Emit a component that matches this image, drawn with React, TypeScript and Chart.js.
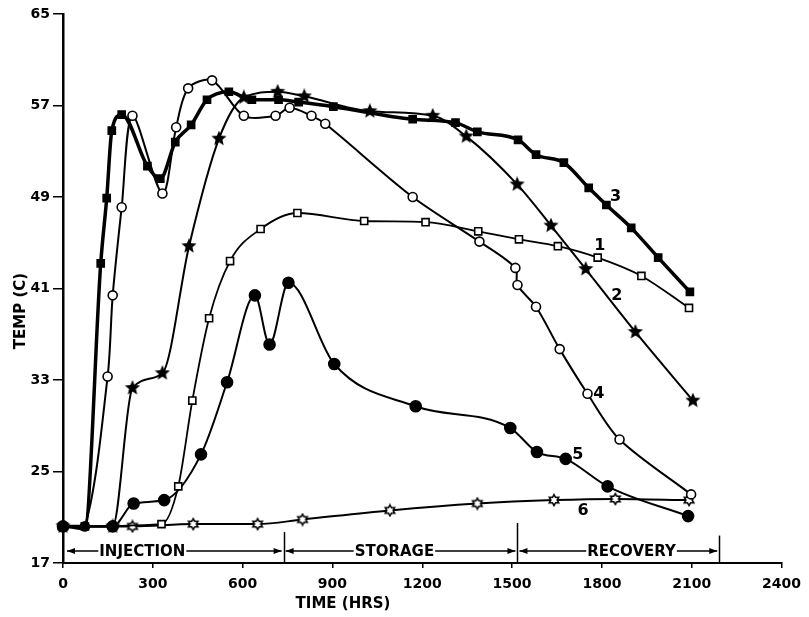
import React, { useEffect, useRef } from 'react';
import { Chart, registerables } from 'chart.js';
Chart.register(...registerables);

// Axis ranges / ticks
const xMin = 0, xMax = 2400, xStep = 300;
const yMin = 17, yMax = 65, yStep = 8;

// Series 1 (open squares)
const s1Hours = [0, 329, 385, 432, 488, 558, 660, 783, 1006, 1211, 1387, 1523, 1653, 1786, 1932, 2091];
const s1Temp = [20.2, 20.4, 23.7, 31.2, 38.4, 43.4, 46.2, 47.6, 46.9, 46.8, 46.0, 45.3, 44.7, 43.7, 42.1, 39.3];
// Series 2 (filled stars)
const s2Hours = [0, 166, 232, 332, 421, 521, 604, 717, 806, 1025, 1235, 1347, 1517, 1630, 1746, 1912, 2104];
const s2Temp = [20.2, 20.2, 32.3, 33.6, 44.7, 54.1, 57.7, 58.2, 57.8, 56.5, 56.1, 54.3, 50.1, 46.5, 42.7, 37.2, 31.2];
// Series 3 (filled squares)
const s3Hours = [0, 73, 126, 146, 163, 196, 282, 325, 375, 428, 481, 554, 631, 720, 787, 903, 1168, 1311, 1384, 1520, 1580, 1673, 1756, 1815, 1898, 1988, 2094];
const s3Temp = [20.2, 20.2, 43.2, 48.9, 54.8, 56.2, 51.7, 50.6, 53.8, 55.3, 57.5, 58.2, 57.5, 57.5, 57.3, 56.9, 55.8, 55.5, 54.7, 54.0, 52.7, 52.0, 49.8, 48.3, 46.3, 43.7, 40.7];
// Series 4 (open circles)
const s4Hours = [0, 73, 149, 166, 196, 232, 332, 378, 418, 498, 604, 710, 757, 830, 876, 1168, 1391, 1511, 1518, 1580, 1659, 1752, 1859, 2098];
const s4Temp = [20.2, 20.2, 33.3, 40.4, 48.1, 56.1, 49.3, 55.1, 58.5, 59.2, 56.1, 56.1, 56.8, 56.1, 55.4, 49.0, 45.1, 42.8, 41.3, 39.4, 35.7, 31.8, 27.8, 23.0];
// Series 5 (filled circles)
const s5Hours = [0, 166, 236, 338, 461, 548, 641, 690, 753, 906, 1178, 1494, 1583, 1679, 1819, 2088];
const s5Temp = [20.2, 20.2, 22.2, 22.5, 26.5, 32.8, 40.4, 36.1, 41.5, 34.4, 30.7, 28.8, 26.7, 26.1, 23.7, 21.1];
// Series 6 (open hexagrams)
const s6Hours = [0, 232, 435, 650, 800, 1092, 1384, 1640, 1845, 2091];
const s6Temp = [20.2, 20.2, 20.4, 20.4, 20.8, 21.6, 22.2, 22.5, 22.6, 22.5];

// Curve number labels
const curveLabels = ['1', '2', '3', '4', '5', '6'];
const curveLabelHours = [1793, 1850, 1846, 1790, 1720, 1737];
const curveLabelTemp = [44.7, 40.4, 49.0, 31.8, 26.5, 21.6];

// Phases
const phaseNames = ['INJECTION', 'STORAGE', 'RECOVERY'];
const phaseBounds = [0, 737, 1518, 2192];
const phaseTextHours = [265, 1107, 1899];
const phaseTickTop = [19.7, 20.5, 19.4];
const phaseArrowTemp = 18.05;

const xTitle = 'TIME (HRS)';
const yTitle = 'TEMP (C)';

const FONT = '"DejaVu Sans", sans-serif';

function starCanvas(size: number, points: number, innerRatio: number, fill: string, lw: number) {
  const c = document.createElement('canvas');
  c.width = size; c.height = size;
  const g = c.getContext('2d')!;
  const cx = size / 2, cy = size / 2;
  const R = size / 2 - lw, r = R * innerRatio;
  g.beginPath();
  for (let i = 0; i < points * 2; i++) {
    const a = (i * Math.PI) / points;
    const rr = i % 2 ? r : R;
    g.lineTo(cx + rr * Math.sin(a), cy - rr * Math.cos(a));
  }
  g.closePath();
  g.fillStyle = fill;
  g.fill();
  if (lw > 0) { g.lineWidth = lw; g.strokeStyle = '#000'; g.stroke(); }
  return c;
}

function toXY(h: number[], t: number[]) {
  return h.map((v, i) => ({ x: v, y: t[i] }));
}

const annotPlugin = {
  id: 'annot',
  afterDraw(chart: any) {
    const { ctx } = chart;
    const x = chart.scales.x, y = chart.scales.y;
    ctx.save();
    ctx.fillStyle = '#000';
    ctx.strokeStyle = '#000';
    // curve labels
    ctx.font = `bold 16px ${FONT}`;
    ctx.textAlign = 'center';
    ctx.textBaseline = 'middle';
    curveLabels.forEach((t, i) => {
      ctx.fillText(t, x.getPixelForValue(curveLabelHours[i]), y.getPixelForValue(curveLabelTemp[i]));
    });
    // phase arrows
    const py = y.getPixelForValue(phaseArrowTemp);
    const yBottom = y.getPixelForValue(yMin);
    ctx.lineWidth = 1.5;
    ctx.font = `bold 15px ${FONT}`;
    const head = (tipX: number, dir: number) => {
      ctx.beginPath();
      ctx.moveTo(tipX, py);
      ctx.lineTo(tipX - dir * 8, py - 3);
      ctx.lineTo(tipX - dir * 8, py + 3);
      ctx.closePath();
      ctx.fill();
    };
    phaseNames.forEach((name, i) => {
      const x0 = x.getPixelForValue(phaseBounds[i]) + (i === 0 ? 4 : 2);
      const x1 = x.getPixelForValue(phaseBounds[i + 1]) - 2;
      const tx = x.getPixelForValue(phaseTextHours[i]);
      const w = ctx.measureText(name).width;
      ctx.beginPath();
      ctx.moveTo(x0, py); ctx.lineTo(tx - w / 2 - 1, py);
      ctx.moveTo(tx + w / 2 + 1, py); ctx.lineTo(x1, py);
      ctx.stroke();
      head(x0, -1);
      head(x1, 1);
      ctx.fillText(name, tx, py + 1);
    });
    // boundary ticks
    ctx.lineWidth = 1.5;
    for (let i = 1; i < phaseBounds.length; i++) {
      const bx = Math.round(x.getPixelForValue(phaseBounds[i])) + 0.5;
      ctx.beginPath();
      ctx.moveTo(bx, y.getPixelForValue(phaseTickTop[i - 1]));
      ctx.lineTo(bx, yBottom);
      ctx.stroke();
    }
    // axis titles
    ctx.font = `bold 15px ${FONT}`;
    ctx.fillText(xTitle, 343, 604);
    ctx.translate(21, 311);
    ctx.rotate(-Math.PI / 2);
    ctx.fillText(yTitle, 0, 0);
    ctx.restore();
  },
};

export default function App() {
  const ref = useRef<HTMLCanvasElement>(null);
  useEffect(() => {
    document.body.style.margin = '0';
    const star = starCanvas(16, 5, 0.45, '#000', 0);
    const hex = starCanvas(14, 6, 0.577, '#fff', 1.6);
    const common = {
      borderColor: '#000',
      pointBorderColor: '#000',
      cubicInterpolationMode: 'monotone' as const,
      clip: false as any,
      pointBorderWidth: 1.6,
    };
    const chart = new Chart(ref.current!, {
      type: 'line',
      data: {
        datasets: [
          { ...common, label: '3', data: toXY(s3Hours, s3Temp), borderWidth: 3.5, pointStyle: 'rect', pointRadius: 5, pointBackgroundColor: '#000' },
          { ...common, label: '2', data: toXY(s2Hours, s2Temp), borderWidth: 2, pointStyle: star as any, pointRadius: 7, pointBackgroundColor: '#000' },
          { ...common, label: '4', data: toXY(s4Hours, s4Temp), borderWidth: 2, pointStyle: 'circle', pointRadius: 4.5, pointBackgroundColor: '#fff', cubicInterpolationMode: 'default', tension: 0.3 },
          { ...common, label: '1', data: toXY(s1Hours, s1Temp), borderWidth: 1.8, pointStyle: 'rect', pointRadius: 5, pointBackgroundColor: '#fff' },
          { ...common, label: '5', data: toXY(s5Hours, s5Temp), borderWidth: 2, pointStyle: 'circle', pointRadius: 5.5, pointBackgroundColor: '#000' },
          { ...common, label: '6', data: toXY(s6Hours, s6Temp), borderWidth: 2, pointStyle: hex as any, pointRadius: 6, pointBackgroundColor: '#fff' },
        ],
      },
      options: {
        responsive: false,
        animation: false,
        layout: { padding: { left: 0, top: 14, right: 22, bottom: 0 } },
        plugins: { legend: { display: false }, tooltip: { enabled: false } },
        scales: {
          x: {
            type: 'linear',
            min: xMin, max: xMax,
            afterFit: (s: any) => { s.height = 54; },
            ticks: { stepSize: xStep, color: '#000', padding: 8, font: { family: FONT, size: 14, weight: 'bold' }, maxRotation: 0, callback: (v: any) => String(v) },
            grid: { drawOnChartArea: false, color: '#000', lineWidth: 1.5, tickLength: 5 },
            border: { display: true, color: '#000', width: 2 },
          },
          y: {
            type: 'linear',
            min: yMin, max: yMax,
            afterFit: (s: any) => { s.width = 63; },
            ticks: { stepSize: yStep, color: '#000', padding: 3, font: { family: FONT, size: 14, weight: 'bold' }, callback: (v: any) => String(v) },
            grid: { drawOnChartArea: false, color: '#000', lineWidth: 1.5, tickLength: 10 },
            border: { display: true, color: '#000', width: 2.5 },
          },
        },
      },
      plugins: [annotPlugin],
    });
    return () => chart.destroy();
  }, []);
  return (
    <div style={{ width: 809, height: 617, background: '#fff' }}>
      <canvas ref={ref} width={809} height={617} />
    </div>
  );
}
